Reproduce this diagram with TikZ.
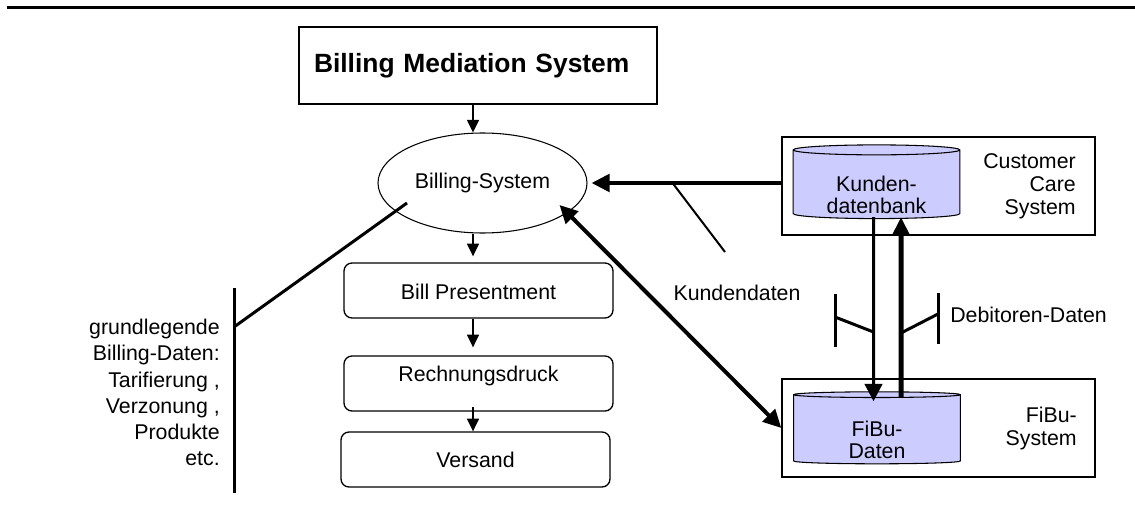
\documentclass[tikz,border=0pt]{standalone}
\usepackage{fontspec}
\setmainfont{Liberation Sans}
\usetikzlibrary{calc,shapes.geometric,arrows.meta}
\definecolor{dbblue}{RGB}{204,204,255}
\newcommand{\dblift}{\rule{0pt}{27pt}}
\tikzset{
  sysbox/.style={draw, line width=1pt, minimum width=234.75pt, minimum height=73.5pt, inner sep=0pt},
  stepbox/.style={draw, line width=1pt, rounded corners=6pt, minimum width=201.75pt, minimum height=41.25pt, inner sep=0pt, font=\fontsize{16pt}{18pt}\selectfont},
  dbase/.style={cylinder, shape border rotate=90, draw, line width=0.8pt, fill=dbblue, aspect=0.1, minimum width=125pt, minimum height=54pt, inner sep=0pt, align=center, font=\fontsize{16pt}{16.5pt}\selectfont},
  txt/.style={inner sep=0pt, font=\fontsize{16pt}{17.25pt}\selectfont},
  small/.style={line width=1.2pt, -{Triangle[length=9.5pt,width=9pt]}},
  big/.style={line width=3pt, -{Triangle[length=13.5pt,width=13pt]}},
  callout/.style={line width=2.25pt},
}
\begin{document}
\begin{tikzpicture}[x=0.75pt, y=-0.75pt]
\useasboundingbox (0,0) rectangle (1135,517);
\draw[line width=2.25pt] (7,8) -- (1135,8);

% billing chain
\node[draw, line width=1pt, minimum height=57.75pt, inner xsep=11.25pt, text width=246pt, align=left, font=\fontsize{19.8pt}{22pt}\selectfont\bfseries] (bms) at (478,65.5) {Billing Mediation System};
\node[ellipse, draw, line width=0.8pt, minimum width=156.75pt, minimum height=75pt, inner sep=0pt, font=\fontsize{16pt}{18pt}\selectfont] (bs) at (482.5,183) {Billing-System};
\node[stepbox, text height=14pt] (bp) at (478.5,290.5) {Bill Presentment};
\node[stepbox, text height=12pt, text depth=14.6pt] (rd) at (478.5,383.5) {Rechnungsdruck};
\node[stepbox] (vs) at (475.5,459.5) {Versand};
\coordinate (col) at (473,0);
\draw[small] (col |- bms.south) -- (col |- bs.north);
\draw[small] (col |- bs.south) -- ($(col |- bp.north)+(0,-6)$);
\draw[small] (col |- bp.south) -- ($(col |- rd.north)+(0,-8)$);
\draw[small] ($(col |- rd.south)+(0,-5)$) -- (col |- vs.north);

% left note
\node[txt, align=right, anchor=east, font=\fontsize{16pt}{19.6pt}\selectfont] (bdl) at (220,392.5) {grundlegende\\Billing-Daten:\\Tarifierung ,\\Verzonung ,\\Produkte\\etc.};
\coordinate (gt) at (234,288);
\coordinate (gb) at (234,493);
\coordinate (gm) at (234,327);
\draw[callout] (gt) -- (gb);
\draw[callout] (gm) -- ($(bs.center)+(-75.5,20)$);

% customer care and fibu
\node[sysbox] (ccs) at (938.5,186) {};
\node[dbase] (kdb) at (876.5,184.5) {\dblift Kunden-\\datenbank};
\node[txt, align=right, anchor=east] (cct) at (1076,186) {Customer\\Care\\System};
\node[sysbox] (fis) at (938.5,428) {};
\node[dbase] (fdb) at (877,429.5) {\dblift FiBu-\\Daten};
\node[txt, align=right, anchor=east] (fit) at (1077,428.5) {FiBu-\\System};

\draw[big] (ccs.west |- bs.east) -- ($(bs.east)+(4,0)$);
\coordinate (kdend) at (725,252);
\draw[line width=1.5pt] ($(bs.east)+(85,0)$) -- (kdend);
\node[txt] (kdl) at (737,293) {Kundendaten};
\draw[line width=3pt, {Triangle[length=13.5pt,width=13pt]}-{Triangle[length=13.5pt,width=13pt]}] ($(bs.center)+(77,22)$) -- (fis.west);

\draw[line width=2.25pt, -{Triangle[length=13pt,width=13pt]}] ($(kdb.south)+(-3,-2)$) -- ($(fdb.north)+(-3.5,10)$);
\draw[line width=3.75pt, -{Triangle[length=13pt,width=12pt]}] ($(fdb.north)+(24,6)$) -- ($(kdb.south)+(24.5,-2)$);

% debitoren callouts
\coordinate (dlt) at (835,294);
\coordinate (dlb) at (835,347);
\coordinate (dlm) at (835,317);
\coordinate (drt) at (938,293);
\coordinate (drb) at (938,344);
\coordinate (drm) at (938,314);
\draw[callout] (dlt) -- (dlb);
\draw[callout] (dlm) -- (873.5,332);
\draw[callout] (drt) -- (drb);
\draw[callout] (drm) -- (901,333);
\node[txt, anchor=west] (dbl) at (950,315) {Debitoren-Daten};
\end{tikzpicture}
\end{document}
